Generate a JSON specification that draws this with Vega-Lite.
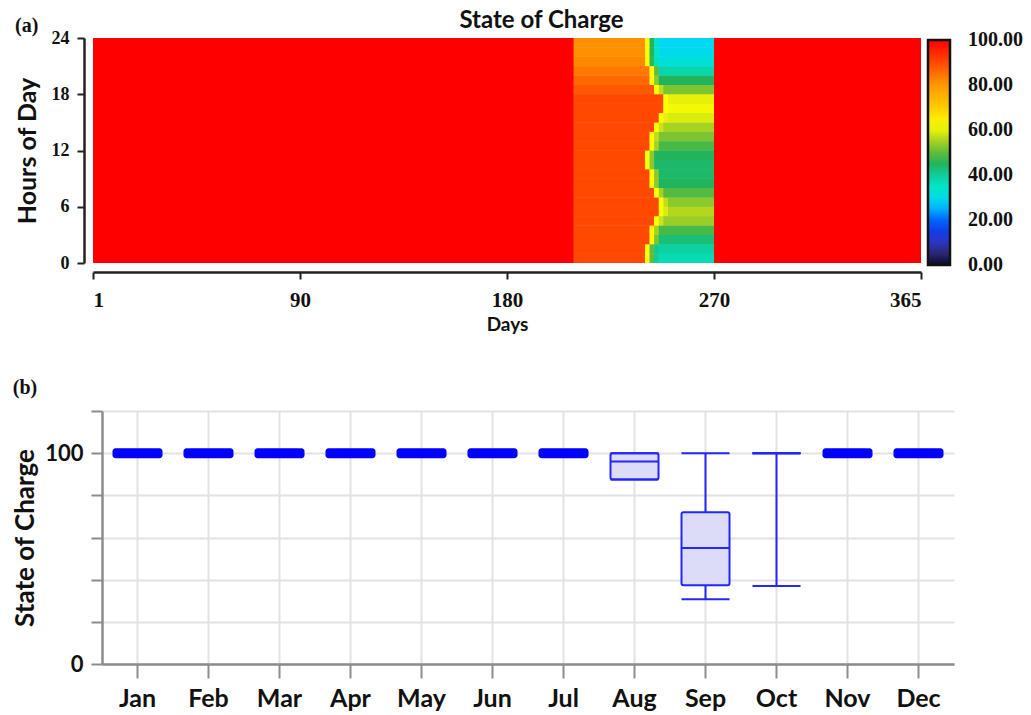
{
  "$schema": "https://vega.github.io/schema/vega-lite/v6.json",
  "background": "white",
  "padding": {"left": 12, "top": 8, "right": 2, "bottom": 2},
  "autosize": {"type": "pad"},
  "columns": 1,
  "spacing": 44,
  "config": {
    "view": {"stroke": null},
    "axis": {"labelColor": "#111", "titleColor": "#111"}
  },
  "datasets": {
    "heat": [
      {"d0":1,"d1":209,"h0":0,"h1":24,"soc":100},
      {"d0":270,"d1":365,"h0":0,"h1":24,"soc":100},
      {"d0":209,"d1":240,"h0":0,"h1":1,"soc":90},{"d0":240,"d1":242,"h0":0,"h1":1,"soc":62},{"d0":242,"d1":244,"h0":0,"h1":1,"soc":50},{"d0":244,"d1":246,"h0":0,"h1":1,"soc":40},{"d0":246,"d1":270,"h0":0,"h1":1,"soc":37},
      {"d0":209,"d1":240,"h0":1,"h1":2,"soc":90},{"d0":240,"d1":242,"h0":1,"h1":2,"soc":62},{"d0":242,"d1":244,"h0":1,"h1":2,"soc":50},{"d0":244,"d1":246,"h0":1,"h1":2,"soc":41},{"d0":246,"d1":270,"h0":1,"h1":2,"soc":39},
      {"d0":209,"d1":242,"h0":2,"h1":3,"soc":90},{"d0":242,"d1":244,"h0":2,"h1":3,"soc":62},{"d0":244,"d1":246,"h0":2,"h1":3,"soc":52},{"d0":246,"d1":270,"h0":2,"h1":3,"soc":43},
      {"d0":209,"d1":242,"h0":3,"h1":4,"soc":90},{"d0":242,"d1":244,"h0":3,"h1":4,"soc":62},{"d0":244,"d1":246,"h0":3,"h1":4,"soc":55},{"d0":246,"d1":270,"h0":3,"h1":4,"soc":48},
      {"d0":209,"d1":244,"h0":4,"h1":5,"soc":90},{"d0":244,"d1":246,"h0":4,"h1":5,"soc":62},{"d0":246,"d1":248,"h0":4,"h1":5,"soc":58},{"d0":248,"d1":270,"h0":4,"h1":5,"soc":54},
      {"d0":209,"d1":246,"h0":5,"h1":6,"soc":90},{"d0":246,"d1":248,"h0":5,"h1":6,"soc":62},{"d0":248,"d1":250,"h0":5,"h1":6,"soc":59},{"d0":250,"d1":270,"h0":5,"h1":6,"soc":56},
      {"d0":209,"d1":246,"h0":6,"h1":7,"soc":90},{"d0":246,"d1":248,"h0":6,"h1":7,"soc":62},{"d0":248,"d1":250,"h0":6,"h1":7,"soc":57},{"d0":250,"d1":270,"h0":6,"h1":7,"soc":53},
      {"d0":209,"d1":244,"h0":7,"h1":8,"soc":90},{"d0":244,"d1":246,"h0":7,"h1":8,"soc":62},{"d0":246,"d1":248,"h0":7,"h1":8,"soc":55},{"d0":248,"d1":270,"h0":7,"h1":8,"soc":49},
      {"d0":209,"d1":242,"h0":8,"h1":9,"soc":90},{"d0":242,"d1":244,"h0":8,"h1":9,"soc":62},{"d0":244,"d1":246,"h0":8,"h1":9,"soc":53},{"d0":246,"d1":270,"h0":8,"h1":9,"soc":45},
      {"d0":209,"d1":242,"h0":9,"h1":10,"soc":90},{"d0":242,"d1":244,"h0":9,"h1":10,"soc":62},{"d0":244,"d1":246,"h0":9,"h1":10,"soc":53},{"d0":246,"d1":270,"h0":9,"h1":10,"soc":44},
      {"d0":209,"d1":240,"h0":10,"h1":11,"soc":90},{"d0":240,"d1":242,"h0":10,"h1":11,"soc":62},{"d0":242,"d1":244,"h0":10,"h1":11,"soc":53},{"d0":244,"d1":270,"h0":10,"h1":11,"soc":44},
      {"d0":209,"d1":240,"h0":11,"h1":12,"soc":90},{"d0":240,"d1":242,"h0":11,"h1":12,"soc":62},{"d0":242,"d1":244,"h0":11,"h1":12,"soc":53},{"d0":244,"d1":270,"h0":11,"h1":12,"soc":45},
      {"d0":209,"d1":242,"h0":12,"h1":13,"soc":90},{"d0":242,"d1":244,"h0":12,"h1":13,"soc":62},{"d0":244,"d1":246,"h0":12,"h1":13,"soc":55},{"d0":246,"d1":270,"h0":12,"h1":13,"soc":48},
      {"d0":209,"d1":242,"h0":13,"h1":14,"soc":90},{"d0":242,"d1":244,"h0":13,"h1":14,"soc":62},{"d0":244,"d1":246,"h0":13,"h1":14,"soc":57},{"d0":246,"d1":270,"h0":13,"h1":14,"soc":52},
      {"d0":209,"d1":244,"h0":14,"h1":15,"soc":90},{"d0":244,"d1":246,"h0":14,"h1":15,"soc":62},{"d0":246,"d1":248,"h0":14,"h1":15,"soc":58},{"d0":248,"d1":270,"h0":14,"h1":15,"soc":55},
      {"d0":209,"d1":246,"h0":15,"h1":16,"soc":90},{"d0":246,"d1":248,"h0":15,"h1":16,"soc":62},{"d0":248,"d1":250,"h0":15,"h1":16,"soc":60},{"d0":250,"d1":270,"h0":15,"h1":16,"soc":59},
      {"d0":209,"d1":248,"h0":16,"h1":17,"soc":90},{"d0":248,"d1":250,"h0":16,"h1":17,"soc":62},{"d0":250,"d1":270,"h0":16,"h1":17,"soc":61},
      {"d0":209,"d1":248,"h0":17,"h1":18,"soc":90},{"d0":248,"d1":250,"h0":17,"h1":18,"soc":62},{"d0":250,"d1":270,"h0":17,"h1":18,"soc":60},
      {"d0":209,"d1":244,"h0":18,"h1":19,"soc":88},{"d0":244,"d1":246,"h0":18,"h1":19,"soc":62},{"d0":246,"d1":248,"h0":18,"h1":19,"soc":57},{"d0":248,"d1":270,"h0":18,"h1":19,"soc":52},
      {"d0":209,"d1":242,"h0":19,"h1":20,"soc":86},{"d0":242,"d1":244,"h0":19,"h1":20,"soc":62},{"d0":244,"d1":246,"h0":19,"h1":20,"soc":53},{"d0":246,"d1":270,"h0":19,"h1":20,"soc":45},
      {"d0":209,"d1":242,"h0":20,"h1":21,"soc":84},{"d0":242,"d1":244,"h0":20,"h1":21,"soc":62},{"d0":244,"d1":246,"h0":20,"h1":21,"soc":50},{"d0":246,"d1":270,"h0":20,"h1":21,"soc":38},
      {"d0":209,"d1":240,"h0":21,"h1":22,"soc":82},{"d0":240,"d1":242,"h0":21,"h1":22,"soc":62},{"d0":242,"d1":244,"h0":21,"h1":22,"soc":46},{"d0":244,"d1":246,"h0":21,"h1":22,"soc":36},{"d0":246,"d1":270,"h0":21,"h1":22,"soc":32},
      {"d0":209,"d1":240,"h0":22,"h1":23,"soc":81},{"d0":240,"d1":242,"h0":22,"h1":23,"soc":62},{"d0":242,"d1":244,"h0":22,"h1":23,"soc":45},{"d0":244,"d1":246,"h0":22,"h1":23,"soc":35},{"d0":246,"d1":270,"h0":22,"h1":23,"soc":29},
      {"d0":209,"d1":240,"h0":23,"h1":24,"soc":81},{"d0":240,"d1":242,"h0":23,"h1":24,"soc":62},{"d0":242,"d1":244,"h0":23,"h1":24,"soc":45},{"d0":244,"d1":246,"h0":23,"h1":24,"soc":34},{"d0":246,"d1":270,"h0":23,"h1":24,"soc":28}
    ],
    "box": [
      {"month":"Jan","min":100,"q1":100,"median":100,"q3":100,"max":100},
      {"month":"Feb","min":100,"q1":100,"median":100,"q3":100,"max":100},
      {"month":"Mar","min":100,"q1":100,"median":100,"q3":100,"max":100},
      {"month":"Apr","min":100,"q1":100,"median":100,"q3":100,"max":100},
      {"month":"May","min":100,"q1":100,"median":100,"q3":100,"max":100},
      {"month":"Jun","min":100,"q1":100,"median":100,"q3":100,"max":100},
      {"month":"Jul","min":100,"q1":100,"median":100,"q3":100,"max":100},
      {"month":"Aug","min":87.5,"q1":87.5,"median":96,"q3":100,"max":100},
      {"month":"Sep","min":30.7,"q1":37.3,"median":55,"q3":72,"max":100},
      {"month":"Oct","min":37,"q1":100,"median":100,"q3":100,"max":100},
      {"month":"Nov","min":100,"q1":100,"median":100,"q3":100,"max":100},
      {"month":"Dec","min":100,"q1":100,"median":100,"q3":100,"max":100}
    ]
  },
  "concat": [
    {
      "width": 819,
      "height": 225,
      "data": {"name": "heat"},
      "title": {"text": "(a)", "anchor": "start", "frame": "bounds", "font": "Liberation Serif", "fontSize": 20, "fontWeight": "bold", "color": "#111", "offset": -28},
      "encoding": {
        "y": {"field": "h0", "type": "quantitative",
              "scale": {"domain": [0, 24], "nice": false, "zero": false},
              "axis": {"values": [0, 6, 12, 18, 24], "title": "Hours of Day", "grid": false, "offset": 18,
                       "domainColor": "#222", "domainWidth": 2.5, "tickColor": "#222", "tickWidth": 2, "tickSize": 7,
                       "labelPadding": 8, "labelFont": "Liberation Serif", "labelFontSize": 18, "labelFontWeight": "bold",
                       "titleFont": "Lato", "titleFontSize": 25, "titleFontWeight": "bold", "titlePadding": 11}},
        "y2": {"field": "h1"},
        "color": {"field": "soc", "type": "quantitative",
                  "scale": {"type": "linear", "interpolate": "rgb",
                            "domain": [-0.01, 0, 5, 10, 18, 23, 28, 35, 40, 45, 50, 56, 62, 70, 80, 90, 100, 100.01],
                            "range": ["#0a0a28", "#0a0a28", "#2a2670", "#2b35c0", "#0044ff", "#0098ff", "#00d8f4", "#00e6c4", "#10cc9a", "#22b45c", "#60bd3c", "#b4d61c", "#ffff00", "#ffcc00", "#ff9800", "#ff4800", "#ff0000", "#ff0000"]},
                  "legend": {"title": null, "values": [0, 20, 40, 60, 80, 100], "format": ".2f",
                             "orient": "none", "legendX": 826, "legendY": 2,
                             "gradientLength": 225, "gradientThickness": 22, "gradientStrokeColor": "#111", "gradientStrokeWidth": 2.5,
                             "labelFont": "Liberation Serif", "labelFontSize": 20, "labelFontWeight": "bold", "labelColor": "#111",
                             "labelOffset": 18, "labelOverlap": false, "padding": 0}}
      },
      "layer": [
        {
          "mark": {"type": "rect"},
          "encoding": {
            "x": {"field": "d0", "type": "quantitative",
                  "scale": {"domain": [1, 90, 180, 270, 365], "range": [-9, 198, 405, 612, 819], "nice": false, "zero": false},
                  "axis": {"orient": "bottom", "values": [1, 90, 180, 270, 365], "title": "Days", "grid": false, "offset": 9,
                           "domainColor": "#222", "domainWidth": 2.5, "tickColor": "#222", "tickWidth": 2, "tickSize": 7,
                           "labelPadding": 10, "labelFont": "Liberation Serif", "labelFontSize": 21, "labelFontWeight": "bold",
                           "titleFont": "Lato", "titleFontSize": 19, "titleFontWeight": "bold", "titlePadding": 5}},
            "x2": {"field": "d1"}
          }
        },
        {
          "mark": {"type": "rect"},
          "encoding": {
            "x": {"field": "d0", "type": "quantitative",
                  "axis": {"orient": "top", "title": "State of Charge", "labels": false, "ticks": false, "domain": false, "grid": false,
                           "titleX": 439, "titleFont": "Lato", "titleFontSize": 24, "titleFontWeight": "bold", "titlePadding": 6}},
            "x2": {"field": "d1"}
          }
        }
      ],
      "resolve": {"axis": {"x": "independent"}}
    },
    {
      "width": 852,
      "height": 253,
      "data": {"name": "box"},
      "title": {"text": "(b)", "anchor": "start", "frame": "bounds", "font": "Liberation Serif", "fontSize": 20, "fontWeight": "bold", "color": "#111", "offset": 12},
      "encoding": {
        "x": {"field": "month", "type": "nominal", "sort": null,
              "scale": {"paddingInner": 0, "paddingOuter": 0},
              "axis": {"title": null, "labelAngle": 0, "grid": true, "gridColor": "#e2e2e2", "gridWidth": 2, "bandPosition": 0.5,
                       "domainColor": "#8c8c8c", "domainWidth": 2.5, "tickColor": "#8c8c8c", "tickWidth": 2, "tickSize": 14,
                       "labelPadding": 8, "labelFont": "Lato", "labelFontSize": 25, "labelFontWeight": "bold"}}
      },
      "layer": [
        {
          "mark": {"type": "rule", "color": "#2424ff", "strokeWidth": 2},
          "encoding": {
            "y": {"field": "min", "type": "quantitative",
                  "scale": {"domain": [0, 120], "nice": false, "zero": true},
                  "axis": {"values": [0, 20, 40, 60, 80, 100, 120], "labelExpr": "datum.value == 0 || datum.value == 100 ? datum.label : ''",
                           "title": "State of Charge", "grid": true, "gridColor": "#e2e2e2", "gridWidth": 2,
                           "domainColor": "#8c8c8c", "domainWidth": 2.5, "tickColor": "#8c8c8c", "tickWidth": 2, "tickSize": 11,
                           "labelPadding": 8, "labelFont": "Lato", "labelFontSize": 22, "labelFontWeight": "bold",
                           "titleFont": "Lato", "titleFontSize": 26, "titleFontWeight": "bold", "titlePadding": 6}},
            "y2": {"field": "q1"}
          }
        },
        {
          "mark": {"type": "rule", "color": "#2424ff", "strokeWidth": 2},
          "encoding": {"y": {"field": "q3", "type": "quantitative"}, "y2": {"field": "max"}}
        },
        {
          "mark": {"type": "bar", "size": 48, "fill": "#dcdcf8", "stroke": "#2424ff", "strokeWidth": 2, "cornerRadius": 2},
          "encoding": {"y": {"field": "q1", "type": "quantitative"}, "y2": {"field": "q3"}}
        },
        {
          "mark": {"type": "tick", "size": 48, "thickness": 2, "color": "#2424ff", "opacity": 1},
          "encoding": {"y": {"field": "median", "type": "quantitative"}}
        },
        {
          "mark": {"type": "tick", "size": 48, "thickness": 2, "color": "#2424ff", "opacity": 1},
          "encoding": {"y": {"field": "min", "type": "quantitative"}}
        },
        {
          "mark": {"type": "tick", "size": 48, "thickness": 2, "color": "#2424ff", "opacity": 1},
          "encoding": {"y": {"field": "max", "type": "quantitative"}}
        },
        {
          "transform": [{"filter": "datum.min == datum.max"}],
          "mark": {"type": "tick", "size": 50, "thickness": 10, "color": "#0000ff", "opacity": 1, "cornerRadius": 3},
          "encoding": {"y": {"field": "median", "type": "quantitative"}}
        }
      ]
    }
  ]
}
